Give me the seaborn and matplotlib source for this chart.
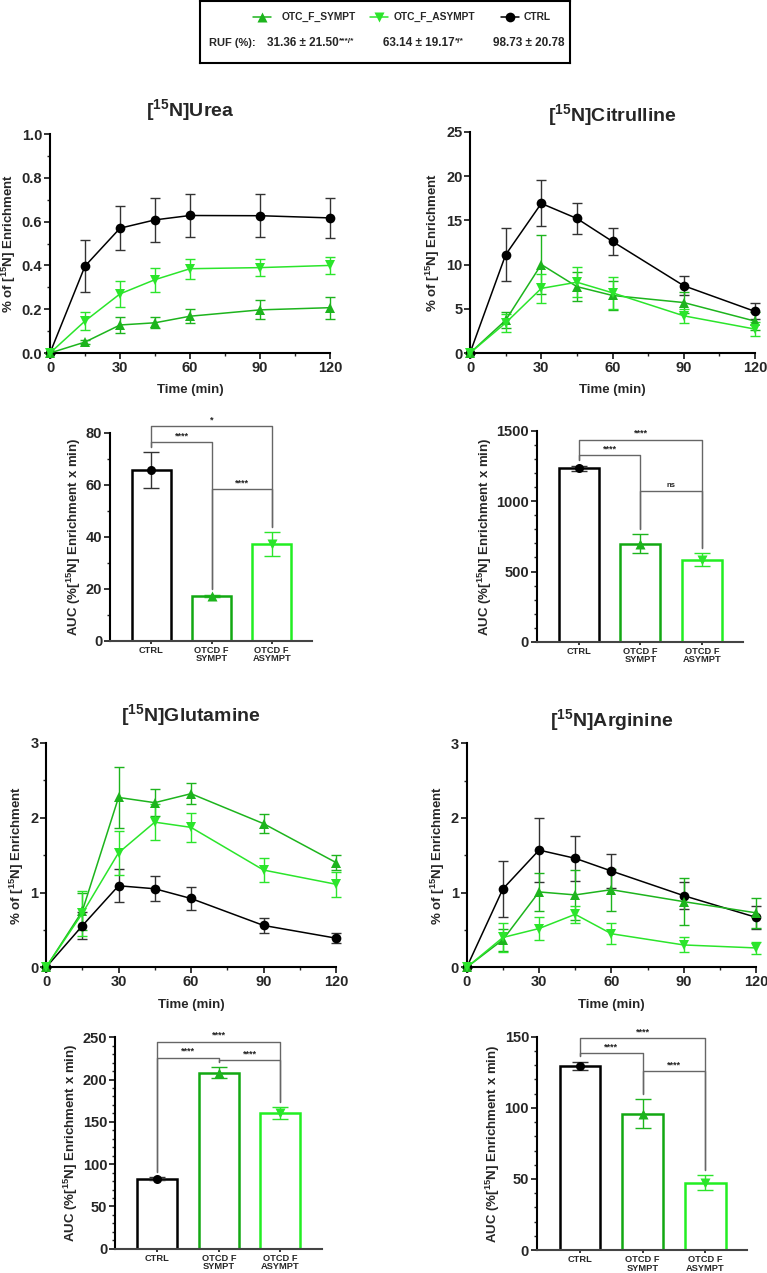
import numpy as np
import pandas as pd
import seaborn as sns
import matplotlib.pyplot as plt
from matplotlib.ticker import MultipleLocator

# time points (min) and groups
TIME = [0, 15, 30, 45, 60, 90, 120]
GROUPS = ['CTRL', 'OTC_F_SYMPT', 'OTC_F_ASYMPT']
LEGEND_ORDER = ['OTC_F_SYMPT', 'OTC_F_ASYMPT', 'CTRL']
BAR_LABELS = ['CTRL', 'OTCD F\nSYMPT', 'OTCD F\nASYMPT']

# [15N]Urea enrichment, mean and sem
urea_ctrl = [0, 0.397, 0.57, 0.608, 0.628, 0.627, 0.617]
urea_ctrl_sem = [0, 0.118, 0.10, 0.10, 0.10, 0.098, 0.093]
urea_sympt = [0, 0.05, 0.128, 0.138, 0.168, 0.197, 0.207]
urea_sympt_sem = [0, 0.01, 0.038, 0.025, 0.033, 0.043, 0.05]
urea_asympt = [0, 0.146, 0.27, 0.335, 0.385, 0.39, 0.40]
urea_asympt_sem = [0, 0.042, 0.06, 0.055, 0.045, 0.04, 0.037]

# [15N]Citrulline
cit_ctrl = [0, 11.1, 16.9, 15.2, 12.6, 7.6, 4.7]
cit_ctrl_sem = [0, 3.0, 2.6, 1.7, 1.5, 1.1, 0.9]
cit_sympt = [0, 3.7, 10.0, 7.5, 6.5, 5.7, 3.6]
cit_sympt_sem = [0, 0.9, 3.3, 1.6, 1.6, 1.2, 1.0]
cit_asympt = [0, 3.4, 7.3, 8.0, 6.8, 4.2, 2.7]
cit_asympt_sem = [0, 1.0, 1.6, 1.7, 1.8, 0.8, 0.8]

# [15N]Glutamine
gln_ctrl = [0, 0.555, 1.09, 1.05, 0.92, 0.56, 0.39]
gln_ctrl_sem = [0, 0.18, 0.22, 0.17, 0.16, 0.10, 0.07]
gln_sympt = [0, 0.75, 2.27, 2.20, 2.32, 1.92, 1.40]
gln_sympt_sem = [0, 0.25, 0.41, 0.18, 0.14, 0.13, 0.10]
gln_asympt = [0, 0.72, 1.53, 1.94, 1.87, 1.30, 1.11]
gln_asympt_sem = [0, 0.30, 0.29, 0.24, 0.19, 0.16, 0.17]

# [15N]Arginine
arg_ctrl = [0, 1.05, 1.57, 1.46, 1.29, 0.96, 0.67]
arg_ctrl_sem = [0, 0.37, 0.43, 0.30, 0.23, 0.18, 0.15]
arg_sympt = [0, 0.37, 1.01, 0.97, 1.04, 0.88, 0.73]
arg_sympt_sem = [0, 0.15, 0.26, 0.33, 0.28, 0.31, 0.20]
arg_asympt = [0, 0.40, 0.52, 0.71, 0.45, 0.30, 0.26]
arg_asympt_sem = [0, 0.20, 0.16, 0.11, 0.14, 0.10, 0.08]

# AUC bars (CTRL, SYMPT, ASYMPT), mean and sem
urea_auc = [65.8, 17.3, 37.3]
urea_auc_sem = [6.8, 0.5, 4.7]
cit_auc = [1232, 697, 585]
cit_auc_sem = [20, 68, 45]
gln_auc = [83, 208, 160]
gln_auc_sem = [2, 6.5, 7]
arg_auc = [129.5, 96, 47.5]
arg_auc_sem = [3, 10, 5]

# significance brackets: (group i, group j, label, height)
urea_sig = [(0, 1, '****', 76.4), (0, 2, '*', 82.7), (1, 2, '****', 58.3)]
cit_sig = [(0, 1, '****', 1325), (0, 2, '****', 1437), (1, 2, 'ns', 1074)]
gln_sig = [(0, 1, '****', 226), (0, 2, '****', 244.7), (1, 2, '****', 223)]
arg_sig = [(0, 1, '****', 138.4), (0, 2, '****', 148.9), (1, 2, '****', 125.6)]

# legend row text
RUF_LABEL = 'RUF (%):'
RUF_VALUES = ['31.36 ± 21.50', '63.14 ± 19.17', '98.73 ± 20.78']
RUF_STARS = ['***/*', '*/*', '']

################################################################################
# style
################################################################################

sns.set_theme(style='ticks')
plt.rcParams['font.family'] = ['Liberation Sans', 'DejaVu Sans']
plt.rcParams['font.weight'] = 'bold'
plt.rcParams['axes.labelweight'] = 'bold'
plt.rcParams['mathtext.fontset'] = 'custom'
plt.rcParams['mathtext.rm'] = 'Liberation Sans:bold'
plt.rcParams['mathtext.bf'] = 'Liberation Sans:bold'

LINE_COLORS = {'CTRL': 'black', 'OTC_F_SYMPT': '#1DB41D', 'OTC_F_ASYMPT': '#2BE52B'}
ERR_COLORS = {'CTRL': '#333333', 'OTC_F_SYMPT': '#1DB41D', 'OTC_F_ASYMPT': '#2BE52B'}
BAR_COLORS = ['black', '#12A812', '#22EE22']
MARKERS = {'CTRL': 'o', 'OTC_F_SYMPT': '^', 'OTC_F_ASYMPT': 'v'}
BRACKET_COLOR = '#666666'

TICK_SIZE = 10.5
LABEL_SIZE = 9.5
TITLE_SIZE = 14


def style_axes(ax):
    sns.despine(ax=ax)
    for side in ['left', 'bottom']:
        ax.spines[side].set_linewidth(1.5)
        ax.spines[side].set_color('black')
    ax.tick_params(which='major', length=4, width=1.3, labelsize=TICK_SIZE, pad=1.5)
    ax.tick_params(which='minor', length=2.5, width=1.0)
    for lab in ax.get_xticklabels() + ax.get_yticklabels():
        lab.set_fontweight('bold')


def line_panel(ax, title, means, sems, ymax, ystep, yminor, title_pad):
    df = pd.DataFrame({
        'time': TIME * len(GROUPS),
        'value': [v for m in means for v in m],
        'group': np.repeat(GROUPS, len(TIME)),
    })
    # error bars under the lines
    for g, m, s in zip(GROUPS, means, sems):
        ax.errorbar(TIME, m, yerr=s, fmt='none', ecolor=ERR_COLORS[g],
                    elinewidth=1.0, capsize=3.5, capthick=1.0,
                    clip_on=False, zorder=2)
    sns.lineplot(data=df, x='time', y='value', hue='group', style='group',
                 hue_order=GROUPS, style_order=GROUPS, palette=LINE_COLORS,
                 markers=MARKERS, dashes=False, markersize=7,
                 markeredgewidth=0, linewidth=1.1, errorbar=None,
                 legend=False, ax=ax, clip_on=False, zorder=3)

    ax.set_xlim(0, 120)
    ax.set_xticks([0, 30, 60, 90, 120])
    ax.xaxis.set_minor_locator(MultipleLocator(15))
    ax.set_ylim(0, ymax)
    ax.yaxis.set_major_locator(MultipleLocator(ystep))
    if yminor:
        ax.yaxis.set_minor_locator(MultipleLocator(yminor))
    ax.set_xlabel('Time (min)', fontsize=LABEL_SIZE, fontweight='bold', labelpad=7)
    ax.set_ylabel(r'% of [$^{\mathbf{15}}$N] Enrichment', fontsize=LABEL_SIZE, fontweight='bold', labelpad=3)
    ax.set_title(title, fontsize=TITLE_SIZE, fontweight='bold', pad=title_pad)
    style_axes(ax)


def bar_panel(ax, vals, sems, ymax, ystep, yminor, sig):
    sns.barplot(x=BAR_LABELS, y=vals, hue=BAR_LABELS, palette=BAR_COLORS,
                fill=False, linewidth=1.8, width=0.65, errorbar=None,
                legend=False, ax=ax)
    for i, (v, s, g) in enumerate(zip(vals, sems, GROUPS)):
        ax.errorbar(i, v, yerr=s, fmt=MARKERS[g], color=LINE_COLORS[g],
                    ecolor=ERR_COLORS[g], ms=6.5, mec='none', elinewidth=1.0,
                    capsize=6, capthick=1.0, zorder=3)

    # significance brackets, legs drop to just above each group's error bar
    tops = [v + s for v, s in zip(vals, sems)]
    gap = 0.025 * ymax
    for i, j, label, h in sig:
        ax.plot([i, i, j, j], [tops[i] + gap, h, h, tops[j] + gap],
                color=BRACKET_COLOR, lw=1.0, clip_on=False, zorder=1)
        ax.text((i + j) / 2, h + 0.008 * ymax, label, ha='center', va='bottom',
                fontsize=5.5 if label == 'ns' else 6.5, color='#222222')

    ax.set_xlim(-0.69, 2.67)
    ax.set_ylim(0, ymax)
    ax.yaxis.set_major_locator(MultipleLocator(ystep))
    ax.yaxis.set_minor_locator(MultipleLocator(yminor))
    ax.set_xlabel('')
    ax.set_ylabel(r'AUC (%[$^{\mathbf{15}}$N] Enrichment x min)', fontsize=LABEL_SIZE, fontweight='bold', labelpad=2)
    style_axes(ax)
    ax.tick_params(axis='x', length=2, labelsize=6.7, pad=1.5)
    for lab in ax.get_xticklabels():
        lab.set_linespacing(0.95)
    ax.spines['bottom'].set_color('#444444')


################################################################################
# figure
################################################################################

fig = plt.figure(figsize=(7.67, 12.73), dpi=100)

ax_urea = fig.add_axes([0.0652, 0.7227, 0.3651, 0.1720])
ax_cit = fig.add_axes([0.6128, 0.7227, 0.3716, 0.1738])
ax_urea_bar = fig.add_axes([0.1434, 0.4965, 0.2634, 0.1634])
ax_cit_bar = fig.add_axes([0.6997, 0.4957, 0.2690, 0.1660])
ax_gln = fig.add_axes([0.0600, 0.2401, 0.3781, 0.1764])
ax_arg = fig.add_axes([0.6085, 0.2401, 0.3772, 0.1760])
ax_gln_bar = fig.add_axes([0.1499, 0.0190, 0.2695, 0.1662])
ax_arg_bar = fig.add_axes([0.6997, 0.0180, 0.2746, 0.1676])

line_panel(ax_urea, r'[$^{\mathbf{15}}$N]Urea',
           [urea_ctrl, urea_sympt, urea_asympt],
           [urea_ctrl_sem, urea_sympt_sem, urea_asympt_sem], 1.0, 0.2, 0.1, 12)
line_panel(ax_cit, r'[$^{\mathbf{15}}$N]Citrulline',
           [cit_ctrl, cit_sympt, cit_asympt],
           [cit_ctrl_sem, cit_sympt_sem, cit_asympt_sem], 25, 5, None, 7)
line_panel(ax_gln, r'[$^{\mathbf{15}}$N]Glutamine',
           [gln_ctrl, gln_sympt, gln_asympt],
           [gln_ctrl_sem, gln_sympt_sem, gln_asympt_sem], 3, 1, 0.5, 15)
line_panel(ax_arg, r'[$^{\mathbf{15}}$N]Arginine',
           [arg_ctrl, arg_sympt, arg_asympt],
           [arg_ctrl_sem, arg_sympt_sem, arg_asympt_sem], 3, 1, 0.5, 12)

bar_panel(ax_urea_bar, urea_auc, urea_auc_sem, 80, 20, 10, urea_sig)
bar_panel(ax_cit_bar, cit_auc, cit_auc_sem, 1500, 500, 100, cit_sig)
bar_panel(ax_gln_bar, gln_auc, gln_auc_sem, 250, 50, 10, gln_sig)
bar_panel(ax_arg_bar, arg_auc, arg_auc_sem, 150, 50, 10, arg_sig)

# legend box at the top (pixel layout: box spans x 200..570, y 1..63)
BOX_L, BOX_W = 200, 370
leg = fig.add_axes([BOX_L / 767, 1 - 63 / 1273, BOX_W / 767, 62 / 1273])
leg.set_xlim(BOX_L, BOX_L + BOX_W)
leg.set_ylim(63, 1)
leg.set_xticks([])
leg.set_yticks([])
for sp in leg.spines.values():
    sp.set_linewidth(1.5)
    sp.set_color('black')
leg.set_facecolor('white')

handle_x = [262, 379, 510]
text_x = [282, 394, 524]
for g, hx, tx in zip(LEGEND_ORDER, handle_x, text_x):
    leg.plot([hx - 9, hx, hx + 9], [17, 17, 17], color=LINE_COLORS[g],
             lw=1.1, marker=MARKERS[g], markevery=[1], ms=7, mec='none')
    leg.text(tx, 17, g, ha='left', va='center', fontsize=7.4, fontweight='bold')

leg.text(256, 43, RUF_LABEL, ha='right', va='center', fontsize=8, fontweight='bold')
for tx, val, stars in zip([267, 383, 493], RUF_VALUES, RUF_STARS):
    t = leg.annotate(val, (tx, 43), ha='left', va='center', fontsize=8.5, fontweight='bold')
    if stars:
        leg.annotate(stars, xy=(1, 1), xycoords=t, xytext=(0.5, -1),
                     textcoords='offset points', ha='left', va='top',
                     fontsize=6, fontweight='bold')

fig.savefig('out.png', dpi=100)
